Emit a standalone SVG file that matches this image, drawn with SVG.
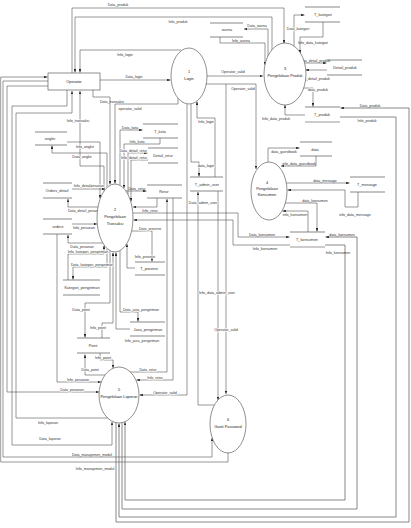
<svg xmlns="http://www.w3.org/2000/svg" width="411" height="528" viewBox="0 0 411 528">
<style>
text{font-family:"Liberation Sans",Arial,sans-serif;fill:#333;text-anchor:middle}
.l{font-size:3.6px}
.h{paint-order:stroke;stroke:#fff;stroke-width:1.2px}
.pt{font-size:3.9px;fill:#222}
.st{font-size:3.8px}
.c{fill:none;stroke:#444;stroke-width:0.55;marker-end:url(#a)}
.o{fill:none;stroke:#6a6a6a;stroke-width:0.8;marker-end:url(#a)}
.s line{stroke:#555;stroke-width:0.7}
.s line.g{stroke:#999;stroke-width:1.1}
.p ellipse,.p rect{fill:#fff;stroke:#444;stroke-width:0.6}
</style>
<defs><marker id="a" viewBox="0 0 4 3" markerWidth="3.4" markerHeight="2.6" refX="4" refY="1.5" orient="auto" markerUnits="userSpaceOnUse"><path d="M0,0L4,1.5L0,3z" fill="#222"/></marker></defs>
<rect width="411" height="528" fill="#fff"/>
<g id="connectors">
<path class="c" d="M72,73V8H284V43.5"/>
<path class="c" d="M272,51V17H75V72.5"/>
<path class="c" d="M181,50H80V72.5"/>
<path class="c" d="M100,80H170.5"/>
<path class="c" d="M207,76H263"/>
<path class="c" d="M206,84H256V169"/>
<path class="c" d="M226,84V394"/>
<path class="c" d="M178,98V104H115V183.5"/>
<path class="c" d="M93,90V97H110V184.5"/>
<path class="c" d="M104,191V166H80V91"/>
<path class="c" d="M67,142H100V198.5"/>
<path class="c" d="M107,187.5V153H52V145.5"/>
<path class="c" d="M120,185.3V130H142.5"/>
<path class="c" d="M160,138V144H124V188"/>
<path class="c" d="M128,194.5V153H147.5"/>
<path class="c" d="M148,160H131V201.5"/>
<path class="c" d="M126,191H146.5"/>
<path class="c" d="M157,198V207H133"/>
<path class="c" d="M133,213H238V237H289.5"/>
<path class="c" d="M290,245H233V220H133.5"/>
<path class="c" d="M132,231H152V261.5"/>
<path class="c" d="M135,268H127V244"/>
<path class="c" d="M120,250.7V312H138V321.5"/>
<path class="c" d="M130,329H116V252.5"/>
<path class="c" d="M107,248.5V267H73V279.5"/>
<path class="c" d="M68,280V254H104V245.5"/>
<path class="c" d="M110,250.7V303H85V337.5"/>
<path class="c" d="M102,338V323H113V252.5"/>
<path class="c" d="M103,243H68V235"/>
<path class="c" d="M72,224H97"/>
<path class="c" d="M98,207H68V199"/>
<path class="c" d="M72,189H105"/>
<path class="c" d="M57,234V382H101"/>
<path class="c" d="M48,86H7V392H99"/>
<path class="c" d="M100,353V360H113V368"/>
<path class="c" d="M105,375H85V354.5"/>
<path class="c" d="M108,418H16V113H72V91"/>
<path class="c" d="M67,90V106H12V445H112V422"/>
<path class="c" d="M48,81H3V457H212V438"/>
<path class="c" d="M228,453V462H0.7V77H47.5"/>
<path class="c" d="M187,104V395H139.5"/>
<path class="c" d="M130,372H167V199"/>
<path class="c" d="M173,198V380H136.5"/>
<path class="c" d="M191,104V162H199V176.5"/>
<path class="c" d="M215,177V118H197V101.5"/>
<path class="c" d="M214,405H198V192"/>
<path class="c" d="M218,191V400"/>
<path class="c" d="M268,57V29H244"/>
<path class="c" d="M220,37V43H265V65"/>
<path class="c" d="M294,47V15H304.5"/>
<path class="c" d="M323,22V37H300V53.5"/>
<path class="c" d="M304,63H326.5"/>
<path class="c" d="M327,70H305.5"/>
<path class="c" d="M303,88H313V106.5"/>
<path class="c" d="M305,115H285V105"/>
<path class="o" d="M116,422.7V522H409V108H340.5"/>
<path class="o" d="M340,117H396V517H119V423.5"/>
<path class="o" d="M122,422.7V509H357V237H325.5"/>
<path class="o" d="M325,245H345V500H125V422"/>
<path class="c" d="M268,162V148H299.5"/>
<path class="c" d="M316,156V166H281"/>
<path class="c" d="M286,183H349.5"/>
<path class="c" d="M358,192V207H345V190H287.5"/>
<path class="c" d="M285,203H317V231.5"/>
<path class="c" d="M308,232V211H282.5"/>
<g class="l">
<text x="118" y="5.5">Data_produk</text>
<text x="178" y="22.5">Info_produk</text>
<text x="125" y="55.5">Info_login</text>
<text x="134" y="77.5">Data_login</text>
<text x="233" y="73">Operator_valid</text>
<text x="243" y="89.5">Operator_valid</text>
<text x="130" y="109.5">operator_valid</text>
<text x="112" y="102.5">Data_transaksi</text>
<text class="h" x="78" y="121.5">Info_transaksi</text>
<text x="130" y="128.5">Data_kota</text>
<text x="137" y="142.5">Info_kota</text>
<text class="h" x="147" y="151.5" style="text-anchor:end">Data_detail_retur</text>
<text class="h" x="147" y="158.5" style="text-anchor:end">Info_detail_retur</text>
<text x="137" y="189.5">Data_retur</text>
<text x="150" y="212">Info_retur</text>
<text x="262" y="235.5">Data_konsumen</text>
<text x="265" y="250">Info_konsumen</text>
<text class="h" x="150" y="229.5">Data_provinsi</text>
<text class="h" x="145" y="257.5">Info_provinsi</text>
<text class="h" x="141" y="310.5">Data_jasa_pengiriman</text>
<text class="h" x="142" y="342">Info_jasa_pengiriman</text>
<text class="h" x="92" y="265.5">Data_kategori_pengiriman</text>
<text class="h" x="88" y="252.5">Info_kategori_pengiriman</text>
<text class="h" x="82" y="247.5">Data_pesanan</text>
<text class="h" x="84" y="229">Info_pesanan</text>
<text class="h" x="85" y="211.5">Data_detail_pesanan</text>
<text class="h" x="89" y="187">Info_detailpesanan</text>
<text class="h" x="85" y="147.5">Info_ongkir</text>
<text class="h" x="82" y="157.5">Data_ongkir</text>
<text class="h" x="81" y="311">Data_point</text>
<text class="h" x="98" y="328.5">Info_point</text>
<text class="h" x="103" y="358.5">Info_point</text>
<text class="h" x="90" y="371">Data_point</text>
<text class="h" x="78" y="380.5">Info_pesanan</text>
<text class="h" x="72" y="390.5">Data_pesanan</text>
<text x="48" y="423.5">Info_laporan</text>
<text x="50" y="440">Data_laporan</text>
<text x="92" y="455.5">Data_manajemen_modul</text>
<text x="95" y="469.5">Info_manajemen_modul</text>
<text class="h" x="165" y="393.5">Operator_valid</text>
<text class="h" x="148" y="370.5">Data_retur</text>
<text class="h" x="155" y="378.5">Info_retur</text>
<text class="h" x="217" y="294">Info_data_admin_user</text>
<text class="h" x="226" y="331">Operator_valid</text>
<text class="h" x="203" y="204">Data_admin_user</text>
<text class="h" x="206" y="167">data_login</text>
<text class="h" x="206" y="123">Info_login</text>
<text x="257" y="27">Data_warna</text>
<text x="241" y="41.5">Info_warna</text>
<text class="h" x="298" y="30">Data_kategori</text>
<text x="313" y="44">Info_data_kategori</text>
<text x="315" y="61.5">data_detail_produk</text>
<text x="315" y="80">info_detail_produk</text>
<text class="h" x="318" y="91">data_produk</text>
<text x="276" y="120">Info_data_produk</text>
<text x="370" y="106.5">Data_produk</text>
<text x="367" y="122">Info_produk</text>
<text x="284" y="153">data_guestbook</text>
<text x="299" y="164.5">info_data_guestbook</text>
<text x="325" y="181.5">data_message</text>
<text x="355" y="216">info_data_message</text>
<text x="315" y="201.5">data_konsumen</text>
<text x="295" y="215.5">info_konsumen</text>
<text x="342" y="235.5">data_konsumen</text>
<text x="338" y="253.5">Info_konsumen</text>
</g>
</g>
<g id="operator" class="p"><rect x="48" y="73" width="52" height="17"/><text class="pt" x="74" y="83">Operator</text></g>
<g id="p1" class="p"><ellipse cx="189" cy="76" rx="18" ry="28"/><text class="pt" x="189" y="73">1</text><text class="pt" x="189" y="80">Login</text></g>
<g id="p2" class="p"><ellipse cx="115" cy="218" rx="18" ry="34"/><text class="pt" x="115" y="211">2</text><text class="pt" x="115" y="218">Pengelolaan</text><text class="pt" x="115" y="225">Transaksi</text></g>
<g id="p3" class="p"><ellipse cx="285" cy="74" rx="21" ry="31"/><text class="pt" x="285" y="70">3</text><text class="pt" x="285" y="77">Pengelolaan Produk</text></g>
<g id="p4" class="p"><ellipse cx="269" cy="191" rx="18" ry="29"/><text class="pt" x="267" y="184">4</text><text class="pt" x="267" y="190">Pengelolaan</text><text class="pt" x="267" y="196">Konsumen</text></g>
<g id="p5" class="p"><ellipse cx="119" cy="395" rx="20" ry="28"/><text class="pt" x="119" y="391">5</text><text class="pt" x="119" y="398">Pengelolaan Laporan</text></g>
<g id="p6" class="p"><ellipse cx="228" cy="424" rx="18" ry="29"/><text class="pt" x="228" y="421">6</text><text class="pt" x="228" y="428">Ganti Password</text></g>
<g id="t_kategori" class="s"><line x1="305" y1="7" x2="340" y2="7"/><line x1="305" y1="22" x2="340" y2="22"/><text class="st" x="323" y="16">T_kategori</text></g>
<g id="warna" class="s"><line x1="210" y1="23" x2="243" y2="23"/><line x1="210" y1="37" x2="243" y2="37"/><text class="st" x="227" y="31">warna</text></g>
<g id="detail_produk" class="s"><line x1="327" y1="60" x2="362" y2="60"/><line x1="327" y1="75" x2="362" y2="75"/><text class="st" x="345" y="69">Detail_produk</text></g>
<g id="t_produk" class="s"><line x1="305" y1="107" x2="340" y2="107"/><line class="g" x1="305" y1="122" x2="340" y2="122"/><text class="st" x="322" y="116">T_produk</text></g>
<g id="t_kota" class="s"><line x1="143" y1="124" x2="178" y2="124"/><line x1="143" y1="138" x2="178" y2="138"/><text class="st" x="160" y="133">T_kota</text></g>
<g id="detail_retur" class="s"><line x1="148" y1="148" x2="178" y2="148"/><line x1="148" y1="163" x2="178" y2="163"/><text class="st" x="163" y="157">Detail_retur</text></g>
<g id="retur" class="s"><line x1="147" y1="185" x2="182" y2="185"/><line x1="147" y1="198" x2="182" y2="198"/><text class="st" x="164" y="193">Retur</text></g>
<g id="t_admin_user" class="s"><line x1="190" y1="177" x2="223" y2="177"/><line x1="190" y1="191" x2="223" y2="191"/><text class="st" x="207" y="185.5">T_admin_user</text></g>
<g id="data" class="s"><line x1="300" y1="142" x2="332" y2="142"/><line x1="300" y1="156" x2="332" y2="156"/><text class="st" x="315" y="150.5">data</text></g>
<g id="t_message" class="s"><line x1="350" y1="177" x2="385" y2="177"/><line x1="350" y1="192" x2="385" y2="192"/><text class="st" x="367" y="186">T_message</text></g>
<g id="t_konsumen" class="s"><line x1="290" y1="232" x2="325" y2="232"/><line class="g" x1="290" y1="247" x2="325" y2="247"/><text class="st" x="307" y="241">T_konsumen</text></g>
<g id="ongkir" class="s"><line x1="35" y1="132" x2="67" y2="132"/><line x1="35" y1="145" x2="67" y2="145"/><text class="st" x="50" y="140">ongkir</text></g>
<g id="orders_detail" class="s"><line x1="43" y1="183" x2="72" y2="183"/><line x1="43" y1="198" x2="72" y2="198"/><text class="st" x="57" y="192">Orders_detail</text></g>
<g id="orders" class="s"><line x1="43" y1="219" x2="72" y2="219"/><line x1="43" y1="234" x2="72" y2="234"/><text class="st" x="58" y="228">orders</text></g>
<g id="kategori_pengiriman" class="s"><line x1="63" y1="280" x2="100" y2="280"/><line x1="63" y1="295" x2="100" y2="295"/><text class="st" x="82" y="289">Kategori_pengiriman</text></g>
<g id="t_provinsi" class="s"><line x1="135" y1="262" x2="165" y2="262"/><line x1="135" y1="275" x2="165" y2="275"/><text class="st" x="149" y="270">T_provinsi</text></g>
<g id="jasa_pengiriman" class="s"><line x1="130" y1="322" x2="165" y2="322"/><line x1="130" y1="336" x2="165" y2="336"/><text class="st" x="148" y="331">Jasa_pengiriman</text></g>
<g id="point" class="s"><line x1="77" y1="338" x2="110" y2="338"/><line x1="77" y1="353" x2="110" y2="353"/><text class="st" x="93" y="347">Point</text></g>
</svg>
